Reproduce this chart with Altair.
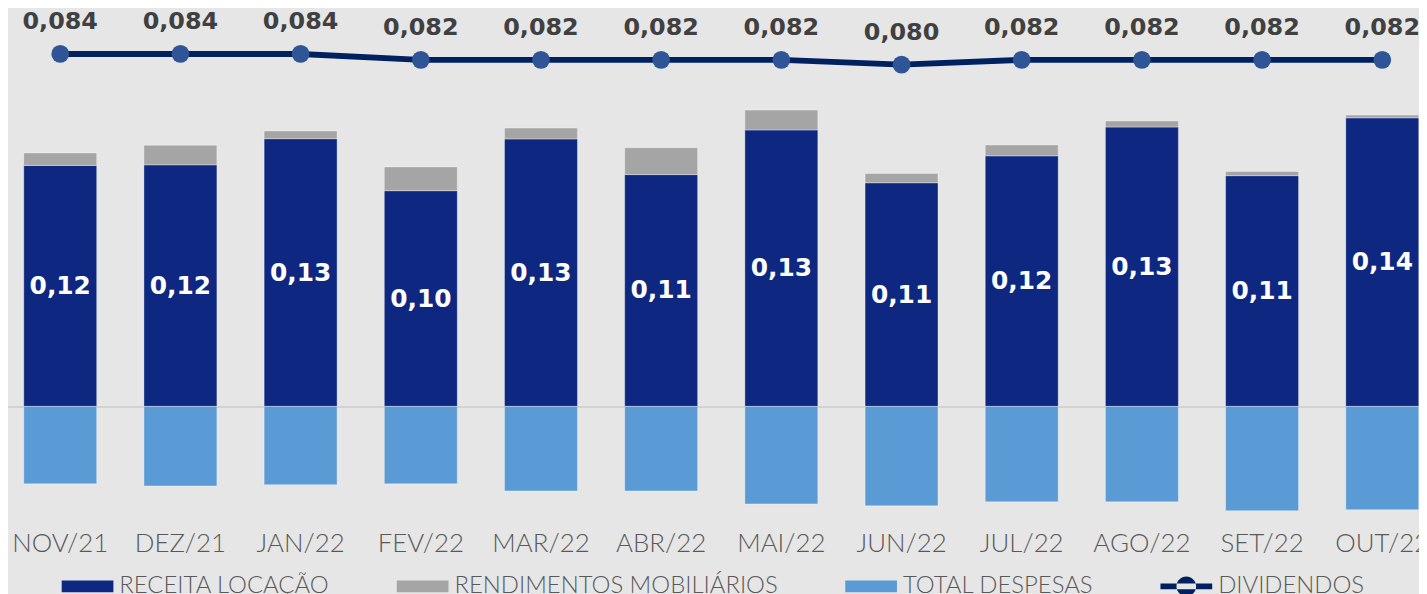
import altair as alt
import pandas as pd

months = ["NOV/21", "DEZ/21", "JAN/22", "FEV/22", "MAR/22", "ABR/22",
          "MAI/22", "JUN/22", "JUL/22", "AGO/22", "SET/22", "OUT/22"]
receita = [0.1154, 0.1157, 0.1282, 0.1033, 0.1281, 0.1110,
           0.1324, 0.1071, 0.1200, 0.1338, 0.1105, 0.1382]
rendimentos = [0.0060, 0.0094, 0.0037, 0.0114, 0.0052, 0.0129,
               0.0095, 0.0044, 0.0052, 0.0029, 0.0020, 0.0013]
despesas = [0.0371, 0.0381, 0.0375, 0.0371, 0.0405, 0.0405,
            0.0467, 0.0476, 0.0457, 0.0457, 0.0500, 0.0495]
dividendos = [0.084, 0.084, 0.084, 0.082, 0.082, 0.082,
              0.082, 0.0804, 0.082, 0.082, 0.082, 0.082]

series_names = ["RECEITA LOCAÇÃO", "RENDIMENTOS MOBILIÁRIOS", "TOTAL DESPESAS", "DIVIDENDOS"]
series_colors = ["#0E2882", "#A5A5A5", "#5B9BD5", "#002060"]
legend_shapes = [
    "M-1,-0.23H1V0.23H-1Z",
    "M-1,-0.23H1V0.23H-1Z",
    "M-1,-0.23H1V0.23H-1Z",
    "M-1,-0.11H1V0.11H-1Z M-0.38,0 A0.38,0.38 0 1,0 0.38,0 A0.38,0.38 0 1,0 -0.38,0 Z",
]


def br(v, d):
    return f"{v:.{d}f}".replace(".", ",")


rows = []
for m, r, s, d in zip(months, receita, rendimentos, despesas):
    rows.append({"month": m, "series": series_names[0], "start": 0, "end": r})
    rows.append({"month": m, "series": series_names[1], "start": r, "end": r + s})
    rows.append({"month": m, "series": series_names[2], "start": 0, "end": -d})
bars_df = pd.DataFrame(rows)

lab_df = pd.DataFrame({"month": months, "mid": [r / 2 for r in receita],
                       "label": [br(r, 2) for r in receita]})
div_df = pd.DataFrame({"month": months, "div": dividendos,
                       "label": [br(v, 3) for v in dividendos]})
leg_df = pd.DataFrame({"series": series_names})

W, V, B = 1419, 512, 74

xscale = alt.Scale(domain=months, range=[-7.9, 1442.5], paddingInner=0.393,
                   paddingOuter=0.1965, round=False)
ybar = alt.Scale(domain=[-0.05381, 0.19], nice=False, zero=False)
ydiv = alt.Scale(domain=[-0.071833, 0.098833], nice=False, zero=False)

xaxis = alt.Axis(title=None, ticks=False, domain=False, labelAngle=0, labelFont="Lato",
                 labelFontSize=26, labelFontWeight=300, labelColor="#595959", labelPadding=12,
                 labelOverlap=False, labelBound=False, labelFlush=False, grid=False)

xenc = alt.X("month:N", scale=xscale, sort=months, axis=xaxis)

bars = alt.Chart(bars_df).mark_bar(stroke="#FFFFFF", strokeOpacity=0.35, strokeWidth=1).encode(
    x=xenc,
    y=alt.Y("start:Q", scale=ybar,
            axis=alt.Axis(values=[0], grid=True, gridColor="#D2D2D2", gridWidth=2,
                          labels=False, ticks=False, domain=False, title=None)),
    y2="end:Q",
    color=alt.Color("series:N", scale=alt.Scale(domain=series_names[:3], range=series_colors[:3]),
                    legend=None),
)

bar_labels = alt.Chart(lab_df).mark_text(font="DejaVu Sans", fontWeight="bold", fontSize=25,
                                         color="#FFFFFF", baseline="middle", align="center").encode(
    x=xenc,
    y=alt.Y("mid:Q", scale=ybar, axis=None),
    text="label:N",
)

line = alt.Chart(div_df).mark_line(color="#002060", strokeWidth=6).encode(
    x=xenc,
    y=alt.Y("div:Q", scale=ydiv, axis=None),
)
points = alt.Chart(div_df).mark_point(filled=True, color="#2F5597", size=320, opacity=1).encode(
    x=xenc,
    y=alt.Y("div:Q", scale=ydiv, axis=None),
)
div_labels = alt.Chart(div_df).mark_text(font="DejaVu Sans", fontWeight="bold", fontSize=24,
                                         color="#404040", baseline="alphabetic", align="center",
                                         dy=-25).encode(
    x=xenc,
    y=alt.Y("div:Q", scale=ydiv, axis=None),
    text="label:N",
)

leg_props = dict(orient="none", legendX=54, legendY=554, direction="horizontal", title=None,
                 symbolSize=2704, labelFont="Lato", labelFontSize=24, labelFontWeight=300,
                 labelColor="#595959", labelLimit=600, labelOffset=6, columnPadding=67,
                 symbolOpacity=1, symbolStrokeWidth=0)
legend_layer = alt.Chart(leg_df).mark_point(filled=True, opacity=0).encode(
    fill=alt.Fill("series:N", scale=alt.Scale(domain=series_names, range=series_colors),
                  legend=alt.Legend(**leg_props)),
    shape=alt.Shape("series:N", scale=alt.Scale(domain=series_names, range=legend_shapes),
                    legend=alt.Legend(**leg_props)),
)

chart = alt.layer(bars, bar_labels, line, points, div_labels, legend_layer).resolve_scale(
    y="independent"
).properties(
    width=W, height=V, autosize="none",
    padding={"left": 0, "top": 0, "right": 0, "bottom": B},
).configure(background="#E6E6E6").configure_view(stroke=None)

chart.save("out.html", embed_options={"renderer": "svg", "actions": False})
